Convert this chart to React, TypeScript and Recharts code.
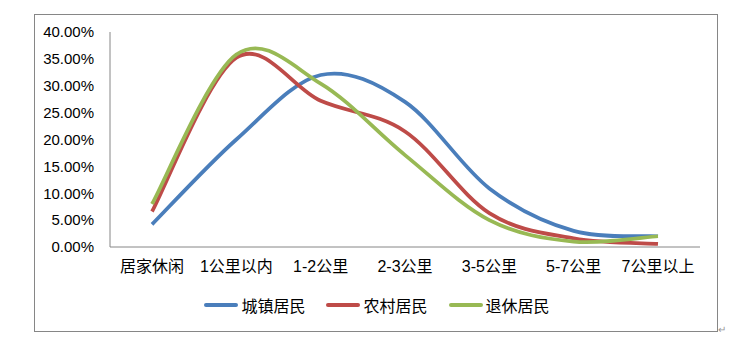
import React from 'react';
import { LineChart, Line, XAxis, YAxis, Legend } from 'recharts';

const categories = ['居家休闲', '1公里以内', '1-2公里', '2-3公里', '3-5公里', '5-7公里', '7公里以上'];
const urbanValues = [4.2, 20.0, 32.0, 27.0, 10.9, 3.0, 2.0];
const ruralValues = [6.6, 35.2, 27.2, 21.5, 6.3, 1.6, 0.6];
const retiredValues = [8.0, 35.8, 30.4, 17.1, 5.0, 1.0, 2.0];
const yTicks = [0, 5, 10, 15, 20, 25, 30, 35, 40];

const seriesList = [
  { key: 'urban', name: '城镇居民', color: '#4A7EBB' },
  { key: 'rural', name: '农村居民', color: '#BE4B48' },
  { key: 'retired', name: '退休居民', color: '#98B954' },
];

const data = categories.map((c, i) => ({
  name: c,
  urban: urbanValues[i],
  rural: ruralValues[i],
  retired: retiredValues[i],
}));

const FONT = '"Liberation Sans", "Noto Sans CJK SC", sans-serif';

// smooth line like excel's (catmull-rom through the points)
const excelCurve = (context: any) => {
  let pts: number[][] = [];
  return {
    areaStart() {},
    areaEnd() {},
    lineStart() { pts = []; },
    lineEnd() {
      if (!pts.length) return;
      context.moveTo(pts[0][0], pts[0][1]);
      const t = 1 / 6;
      for (let i = 0; i < pts.length - 1; i++) {
        const p0 = pts[i - 1] || pts[i];
        const p1 = pts[i];
        const p2 = pts[i + 1];
        const p3 = pts[i + 2] || p2;
        context.bezierCurveTo(
          p1[0] + (p2[0] - p0[0]) * t, p1[1] + (p2[1] - p0[1]) * t,
          p2[0] - (p3[0] - p1[0]) * t, p2[1] - (p3[1] - p1[1]) * t,
          p2[0], p2[1]
        );
      }
    },
    point(x: number, y: number) { pts.push([+x, +y]); },
  };
};

const LegendContent = () => (
  <div style={{ display: 'flex', justifyContent: 'center', alignItems: 'center', height: 30, fontFamily: FONT, fontSize: 16, color: '#000' }}>
    {seriesList.map((s, i) => (
      <div key={s.key} style={{ display: 'flex', alignItems: 'center', marginLeft: i === 0 ? 0 : 21 }}>
        <div style={{ width: 34, height: 4, background: s.color, borderRadius: 2, marginRight: 3 }}></div>
        <span>{s.name}</span>
      </div>
    ))}
  </div>
);

export default function App() {
  return (
    <div style={{ position: 'absolute', left: 0, top: 0, width: 754, height: 354, background: '#fff' }}>
      <div style={{ position: 'absolute', left: 34, top: 14, width: 682, height: 316, border: '1px solid #868686' }}></div>
      <span style={{ position: 'absolute', left: 718, top: 324, fontSize: 10, color: '#999', fontFamily: FONT }}>↵</span>
      <div style={{ position: 'absolute', left: 0, top: 0 }}>
        <LineChart width={754} height={354} data={data} margin={{ top: 32, right: 54, left: 0, bottom: 47 }}>
          <XAxis
            dataKey="name"
            height={30}
            padding={{ left: 42, right: 42 }}
            axisLine={{ stroke: '#868686' }}
            tickLine={false}
            tickSize={0}
            tickMargin={14}
            interval={0}
            tick={{ fill: '#000', fontSize: 16, fontFamily: FONT }}
          />
          <YAxis
            width={110}
            domain={[0, 40]}
            ticks={yTicks}
            interval={0}
            axisLine={{ stroke: '#868686' }}
            tickLine={false}
            tickSize={0}
            tickMargin={16}
            tickFormatter={(v: number) => `${v.toFixed(2)}%`}
            tick={{ fill: '#000', fontSize: 15, fontFamily: FONT }}
          />
          <Legend content={<LegendContent />} wrapperStyle={{ top: 290, bottom: 'auto', left: 0, width: 754 }} />
          {seriesList.map((s) => (
            <Line
              key={s.key}
              dataKey={s.key}
              name={s.name}
              type={excelCurve as any}
              stroke={s.color}
              strokeWidth={3.75}
              dot={false}
              activeDot={false}
              isAnimationActive={false}
            />
          ))}
        </LineChart>
      </div>
    </div>
  );
}
